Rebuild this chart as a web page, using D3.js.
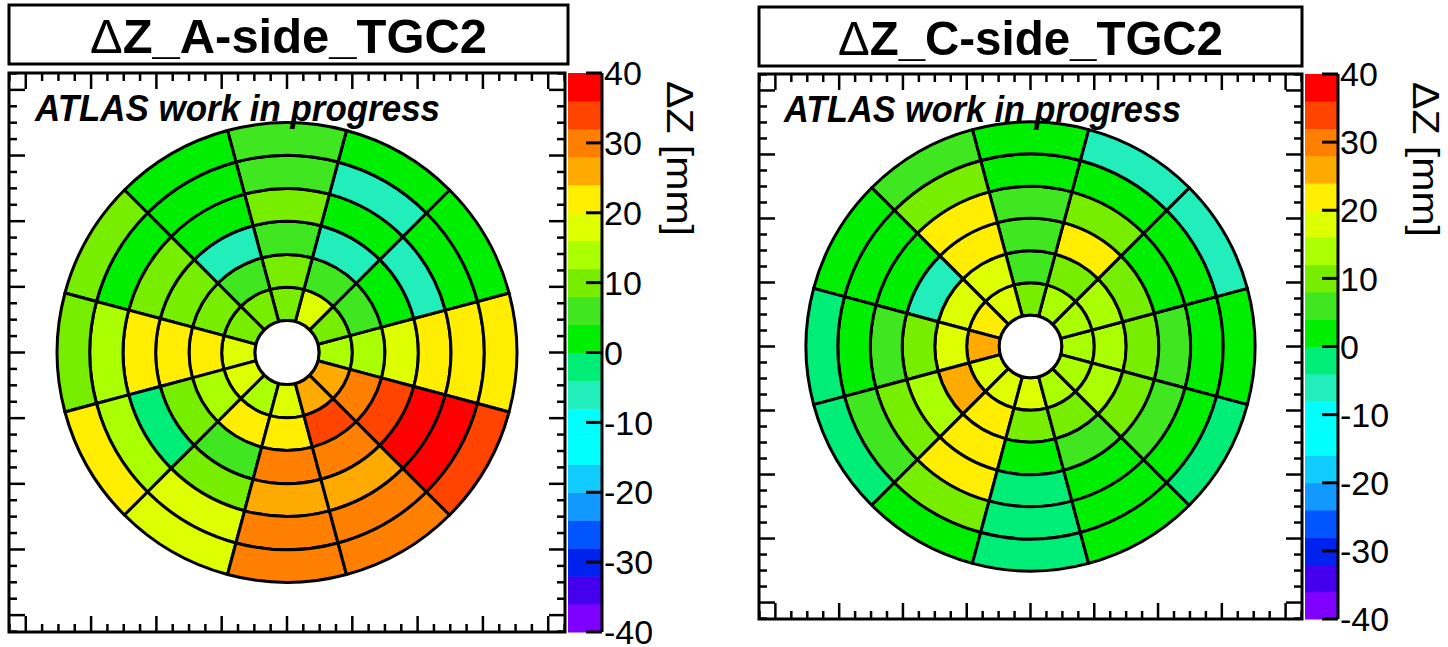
<!DOCTYPE html>
<html lang="en">
<head>
<meta charset="UTF-8">
<title>ΔZ TGC2</title>
<script src="https://d3js.org/d3.v7.min.js"></script>
<style>
    body { margin: 0; padding: 0; background: #fff; overflow: hidden; }
    svg { display: block; font-family: "Liberation Sans", Arial, Helvetica, sans-serif; }
</style>
</head>
<body>
<script>
    // sector centres (deg, counter-clockwise from +x), 30 deg wide each
    const sectorAngles = [0, 30, 60, 90, 120, 150, 180, 210, 240, 270, 300, 330];
    // ring edges in axis units (inner hole -> outer edge)
    const ringEdges = [0.49, 1.0, 1.5, 2.01, 2.51, 3.02, 3.52];

    // dZ [mm] per sector, rings from inner to outer
    const aSide = [
        [14, 15, 19, 20, 20, 20],
        [9, 7, 3, -5, 3, 3],
        [19, 7, -5, 3, -5, 3],
        [10, 10, 6, 10, 6, 6],
        [9, 7, -5, 3, 3, 3],
        [10, 9, 8, 11, 2, 10],
        [19, 20, 22, 21, 14, 10],
        [18, 12, 10, -3, 14, 22],
        [12, 22, 5, 10, 19, 18],
        [18, 20, 28, 26, 29, 30],
        [27, 34, 30, 27, 29, 30],
        [26, 30, 34, 38, 38, 34]
    ];
    const cSide = [
        [15, 12, 8, 6, 3, 2],
        [15, 12, 9, 3, 2, -5],
        [12, 10, 20, 8, 2, -5],
        [8, 7, 7, 6, 3, 2],
        [16, 18, 21, 20, 10, 4],
        [20, 16, -6, 3, 3, 2],
        [27, 19, 8, 4, 2, -2],
        [18, 27, 12, 9, 4, -2],
        [18, 21, 22, 23, 10, 3],
        [19, 11, 3, -2, -2, -3],
        [13, 10, 6, 3, 3, 2],
        [12, 12, 8, 4, 3, -2]
    ];

    // colour palette: 20 contours between -40 and 40
    const zEdges = [-40, -36, -32, -28, -24, -20, -16, -12, -8, -4, 0, 4, 8, 12, 16, 20, 24, 28, 32, 36, 40];
    const bandColors = ["#7f00ff", "#4400ee", "#0022ee", "#0055ff", "#1199ff", "#11ccff", "#00ffff", "#00ffff",
        "#22eebb", "#00ee77", "#00ee00", "#40e620", "#77ee00", "#aaff00", "#ddff00", "#ffee00",
        "#ffaa00", "#ff8000", "#ff4400", "#ff0000"];
    const zTicks = [-40, -30, -20, -10, 0, 10, 20, 30, 40];

    const W = 1448, H = 647;
    const D = 4.257; // half range of the frame axes
    const color = d3.scaleThreshold().domain(zEdges.slice(1, -1)).range(bandColors);

    const svg = d3.select("body").append("svg")
        .attr("width", W)
        .attr("height", H);

    const panels = [
        {
            title: "A-side_TGC2", data: aSide,
            frame: [9, 565, 73, 632], titleBox: [9, 568, 5, 64], titleLen: 397,
            cb: [568, 602], atlasX: 35, atlasLen: 405, zTitleX: 680
        },
        {
            title: "C-side_TGC2", data: cSide,
            frame: [759, 1302, 74, 619], titleBox: [759, 1302, 7, 66], titleLen: 385,
            cb: [1305, 1338], atlasX: 784, atlasLen: 397, zTitleX: 1426
        }
    ];

    panels.forEach(drawPanel);

    function drawPanel(p) {
        const [fx0, fx1, fy0, fy1] = p.frame;
        const x = d3.scaleLinear().domain([-D, D]).range([fx0, fx1]);
        const y = d3.scaleLinear().domain([-D, D]).range([fy1, fy0]);
        const rs = d3.scaleLinear().domain([0, D]).range([0, (fx1 - fx0) / 2]);
        const g = svg.append("g");

        // title box
        const [tx0, tx1, ty0, ty1] = p.titleBox;
        g.append("rect")
            .attr("x", tx0).attr("y", ty0)
            .attr("width", tx1 - tx0).attr("height", ty1 - ty0)
            .attr("fill", "#fff").attr("stroke", "#000").attr("stroke-width", 3);
        const title = g.append("text")
            .attr("x", (tx0 + tx1) / 2)
            .attr("y", ty0 + 48)
            .attr("text-anchor", "middle")
            .attr("font-size", 49)
            .attr("font-weight", "bold")
            .attr("textLength", p.titleLen)
            .attr("lengthAdjust", "spacingAndGlyphs");
        title.append("tspan").attr("font-weight", "normal").text("Δ");
        title.append("tspan").text("Z_" + p.title);

        // frame
        g.append("rect")
            .attr("x", fx0).attr("y", fy0)
            .attr("width", fx1 - fx0).attr("height", fy1 - fy0)
            .attr("fill", "#fff");

        // cells
        const cells = [];
        sectorAngles.forEach((a, si) => {
            p.data[si].forEach((v, ri) => cells.push({ a, ri, v }));
        });
        const arc = d3.arc()
            .innerRadius(d => rs(ringEdges[d.ri]))
            .outerRadius(d => rs(ringEdges[d.ri + 1]))
            .startAngle(d => (90 - d.a - 15) * Math.PI / 180)
            .endAngle(d => (90 - d.a + 15) * Math.PI / 180);

        const disk = g.append("g")
            .attr("transform", `translate(${x(0)},${y(0)})`);
        disk.selectAll("path")
            .data(cells)
            .join("path")
            .attr("d", arc)
            .attr("fill", d => color(d.v))
            .attr("stroke", "#000")
            .attr("stroke-width", 3)
            .attr("stroke-linejoin", "round");
        disk.append("circle")
            .attr("r", rs(ringEdges[0]))
            .attr("fill", "#fff")
            .attr("stroke", "#000")
            .attr("stroke-width", 3);

        // frame ticks
        const minor = d3.range(-17, 18).map(k => k / 4);
        const tickLen = t => Number.isInteger(t) ? 16 : 8;
        const tk = g.append("g").attr("stroke", "#000").attr("stroke-width", 2.5);
        minor.forEach(t => {
            const L = tickLen(t);
            tk.append("line").attr("x1", x(t)).attr("x2", x(t)).attr("y1", fy1).attr("y2", fy1 - L);
            tk.append("line").attr("x1", x(t)).attr("x2", x(t)).attr("y1", fy0).attr("y2", fy0 + L);
            tk.append("line").attr("y1", y(t)).attr("y2", y(t)).attr("x1", fx0).attr("x2", fx0 + L);
            tk.append("line").attr("y1", y(t)).attr("y2", y(t)).attr("x1", fx1).attr("x2", fx1 - L);
        });
        g.append("rect")
            .attr("x", fx0).attr("y", fy0)
            .attr("width", fx1 - fx0).attr("height", fy1 - fy0)
            .attr("fill", "none").attr("stroke", "#000").attr("stroke-width", 3);

        // ATLAS label
        g.append("text")
            .attr("x", p.atlasX)
            .attr("y", fy0 + 48)
            .attr("font-size", 36)
            .attr("font-weight", "bold")
            .attr("font-style", "italic")
            .attr("textLength", p.atlasLen)
            .attr("lengthAdjust", "spacingAndGlyphs")
            .text("ATLAS work in progress");

        // colour bar
        const [cx0, cx1] = p.cb;
        const z = d3.scaleLinear().domain([-40, 40]).range([fy1, fy0]);
        const bands = bandColors.map((c, i) => ({ c, lo: zEdges[i], hi: zEdges[i + 1] }));
        g.append("g").selectAll("rect")
            .data(bands)
            .join("rect")
            .attr("x", cx0)
            .attr("width", cx1 - cx0)
            .attr("y", d => z(d.hi))
            .attr("height", d => z(d.lo) - z(d.hi) + 0.5)
            .attr("fill", d => d.c);
        g.append("line")
            .attr("x1", cx1).attr("x2", cx1)
            .attr("y1", fy0).attr("y2", fy1)
            .attr("stroke", "#000").attr("stroke-width", 3);
        g.append("g").selectAll("line")
            .data(zTicks)
            .join("line")
            .attr("x1", cx1 - 16).attr("x2", cx1)
            .attr("y1", d => z(d)).attr("y2", d => z(d))
            .attr("stroke", "#000").attr("stroke-width", 3);
        g.append("g").selectAll("text")
            .data(zTicks)
            .join("text")
            .attr("x", cx1 + 2)
            .attr("y", d => z(d))
            .attr("dy", "0.36em")
            .attr("font-size", 34)
            .text(d => d);

        // z axis title
        g.append("text")
            .attr("transform", `translate(${p.zTitleX - 13},${fy0 + 8}) rotate(90)`)
            .attr("font-size", 36)
            .attr("textLength", 155)
            .attr("lengthAdjust", "spacingAndGlyphs")
            .text("ΔZ [mm]");
    }
</script>
</body>
</html>
